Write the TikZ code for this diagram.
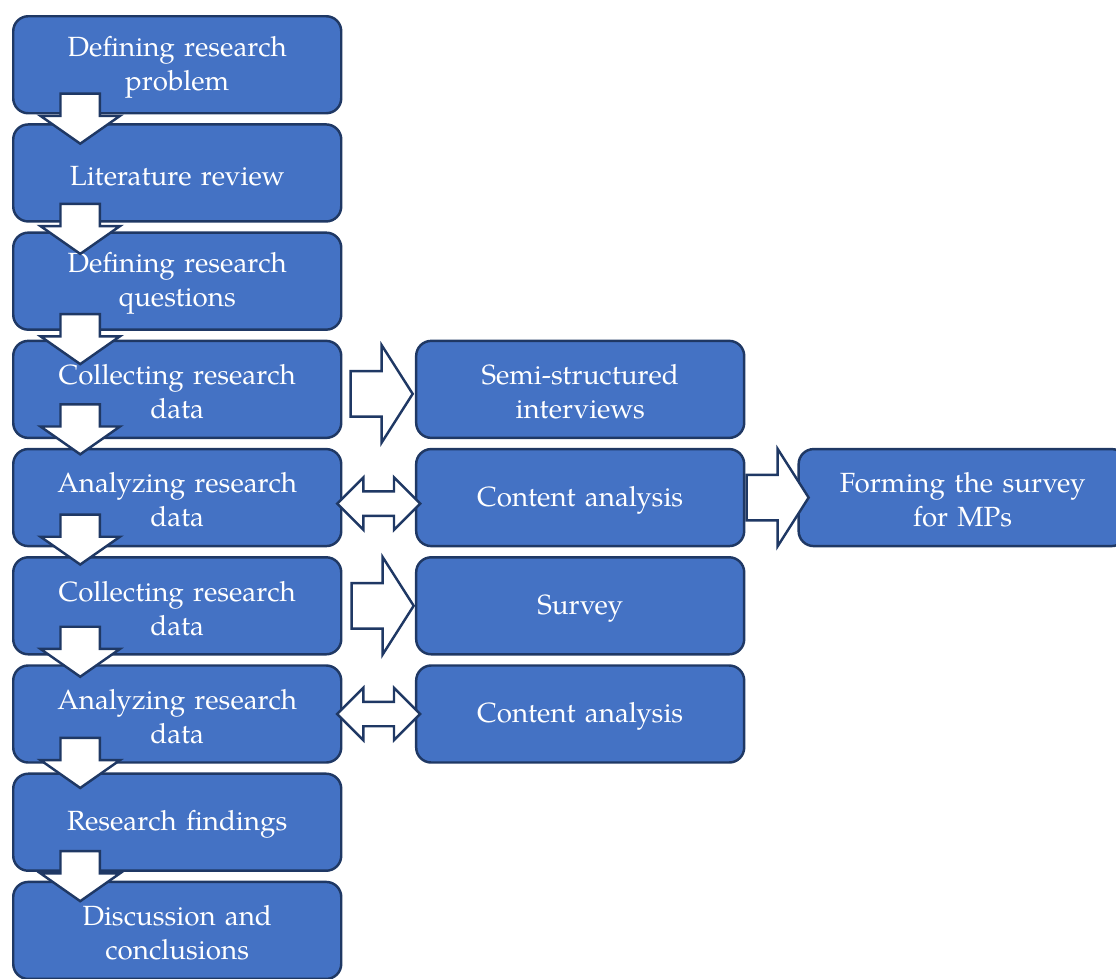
\documentclass[tikz,border=0pt]{standalone}
\usepackage{fontspec}
\setmainfont{TeX Gyre Pagella}
\usetikzlibrary{
	calc,
	positioning,
	shapes.arrows
}
\definecolor{boxfill}{HTML}{4472C4}
\definecolor{boxline}{HTML}{1F3864}

\begin{document}
\begin{tikzpicture} [
		node distance = 0.175cm,
		block/.style = {
			rectangle,
			rounded corners = 0.3cm,
			draw = boxline,
			fill = boxfill,
			line width = 1.4pt,
			text = white,
			text width = 6.2cm,
			text height = 0.5cm,
			align = center,
			inner sep = 0pt,
			minimum width = 6.56cm,
			minimum height = 1.94cm,
			font = \fontsize{15.8}{19.4}\selectfont
		},
		big-arrow/.style = {
			draw = boxline,
			fill = white,
			line width = 1.4pt,
			inner xsep = 0pt
		},
		down-arrow/.style = {
			big-arrow,
			single arrow,
			rotate = -90,
			anchor = tail,
			inner ysep = 0.37cm,
			minimum height = 1cm,
			minimum width = 1.54cm,
			single arrow head extend = 0.4cm,
			single arrow tip angle = 110,
			single arrow head indent = 0pt
		},
		right-arrow/.style = {
			big-arrow,
			single arrow,
			anchor = tail,
			inner ysep = 0.43cm,
			minimum height = 1.24cm,
			minimum width = 1.9cm,
			single arrow head extend = 0.52cm,
			single arrow tip angle = 115,
			single arrow head indent = 0pt
		},
		both-arrow/.style = {
			big-arrow,
			double arrow,
			inner ysep = 0.22cm,
			minimum height = 1.66cm,
			minimum width = 1cm,
			double arrow head extend = 0.28cm,
			double arrow tip angle = 90,
			double arrow head indent = 0pt
		}
	]

	\useasboundingbox (0,0) rectangle (22.32,-19.56);

	% main column
	\node[block, anchor = north west] (problem) at (0.24,-0.3) {
		Defining research\\problem
	};
	\node[block, below = of problem] (review) {
		Literature review
	};
	\node[block, below = of review] (questions) {
		Defining research\\questions
	};
	\node[block, below = of questions] (collect1) {
		Collecting research\\data
	};
	\node[block, below = of collect1] (analyze1) {
		Analyzing research\\data
	};
	\node[block, below = of analyze1] (collect2) {
		Collecting research\\data
	};
	\node[block, below = of collect2] (analyze2) {
		Analyzing research\\data
	};
	\node[block, below = of analyze2] (findings) {
		Research findings
	};
	\node[block, below = of findings] (discussion) {
		Discussion and\\conclusions
	};

	% side columns
	\node[block, right = 1.45cm of collect1] (interviews) {
		Semi-structured\\interviews
	};
	\node[block, right = 1.45cm of analyze1] (content1) {
		Content analysis
	};
	\node[block, right = 1.04cm of content1] (forming) {
		Forming the survey\\for MPs
	};
	\node[block, right = 1.45cm of collect2] (survey) {
		Survey
	};
	\node[block, right = 1.45cm of analyze2] (content2) {
		Content analysis
	};

	% block arrows
	\node[down-arrow] (d1) at ($(problem.south) + (-1.94,0.44)$) {};
	\node[down-arrow] (d2) at ($(review.south) + (-1.94,0.40)$) {};
	\node[down-arrow] (d3) at ($(questions.south) + (-1.94,0.36)$) {};
	\node[down-arrow] (d4) at ($(collect1.south) + (-1.94,0.72)$) {};
	\node[down-arrow] (d5) at ($(analyze1.south) + (-1.94,0.68)$) {};
	\node[down-arrow] (d6) at ($(collect2.south) + (-1.94,0.60)$) {};
	\node[down-arrow] (d7) at ($(analyze2.south) + (-1.94,0.54)$) {};
	\node[down-arrow] (d8) at ($(findings.south) + (-1.94,0.44)$) {};

	\node[right-arrow] (r1) at ($(collect1.east) + (0.14,-0.09)$) {};
	\node[right-arrow] (r2) at (content1.east) {};
	\node[right-arrow] (r3) at ($(collect2.east) + (0.16,0)$) {};

	\node[both-arrow] (b1) at ($(analyze1.east)!0.5!(content1.west) + (0,-0.12)$) {};
	\node[both-arrow] (b2) at ($(analyze2.east)!0.5!(content2.west)$) {};
\end{tikzpicture}
\end{document}
